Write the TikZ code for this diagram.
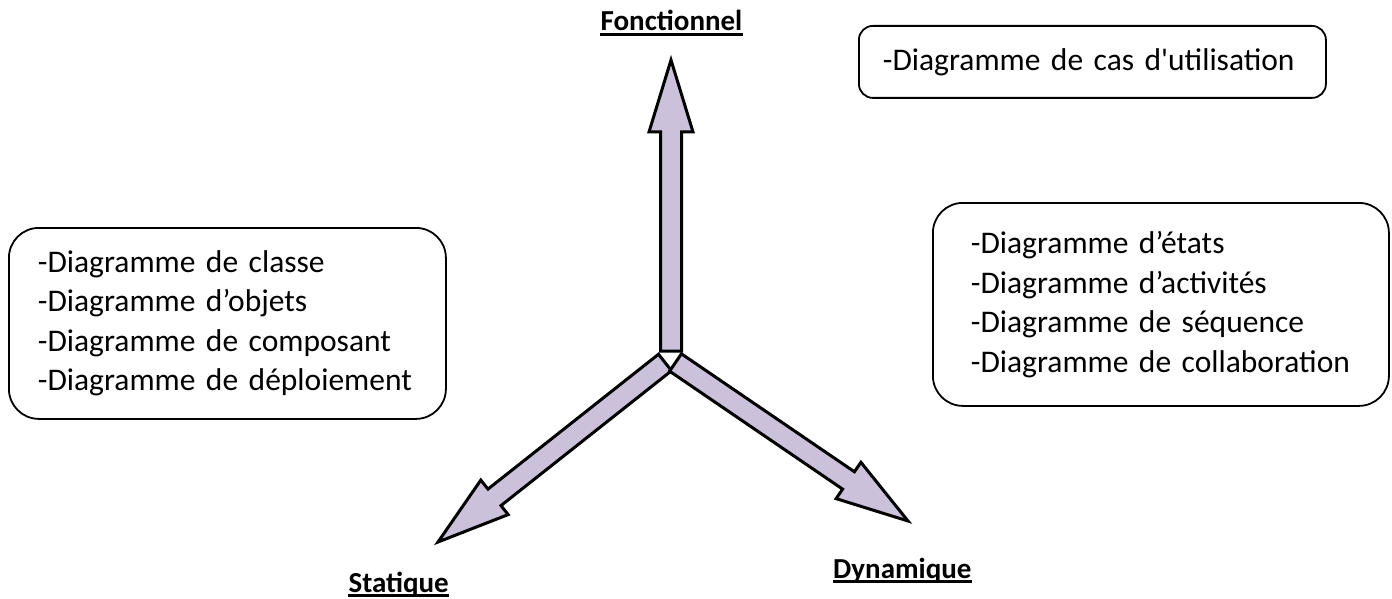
\documentclass[tikz,border=0pt]{standalone}
\usepackage{fontspec}
\setmainfont{Carlito}
\usetikzlibrary{calc}
\definecolor{lav}{RGB}{204,193,218}
\newcommand\axisarrow[3]{%
  \coordinate (#3) at ($(#2)!72pt!(#1)$);
  \draw[fatarrow] ($(#1)!10.5pt!90:(#2)$) -- ($(#3)!10.5pt!-90:(#1)$) -- ($(#3)!22pt!-90:(#1)$) -- (#2)
    -- ($(#3)!22pt!90:(#1)$) -- ($(#3)!10.5pt!90:(#1)$) -- ($(#1)!10.5pt!-90:(#2)$) -- cycle;}
\begin{document}
\begin{tikzpicture}[x=1pt,y=-1pt,
  listbox/.style={draw=black, line width=1.8pt, rounded corners=30pt, anchor=north west,
    align=left, font=\fontsize{31.5}{39.5}\selectfont, inner ysep=0pt},
  axislabel/.style={font=\fontsize{29}{34}\selectfont\bfseries, inner sep=0pt},
  ulined/.style={line width=2.6pt},
  fatarrow/.style={draw=black, fill=lav, line width=3pt, line join=miter}
]
\useasboundingbox (0,0) rectangle (1392,599);

% arrows
\coordinate (vT) at (671,351);
\coordinate (vP) at (671,60);
\coordinate (lT) at (665,362.5);
\coordinate (lP) at (438,542);
\coordinate (rT) at (675.5,362.5);
\coordinate (rP) at (908,521);
\axisarrow{vT}{vP}{vH}
\axisarrow{lT}{lP}{lH}
\axisarrow{rT}{rP}{rH}

% labels
\node[axislabel, anchor=base] (fon) at (671.5,31) {Fonctionnel};
\draw[ulined] ([yshift=-3.5pt]fon.base west) -- ([yshift=-3.5pt]fon.base east);
\node[axislabel, anchor=base east] (sta) at (449,592) {Statique};
\draw[ulined] ([yshift=-3.5pt]sta.base west) -- ([yshift=-3.5pt]sta.base east);
\node[axislabel, anchor=base west] (dyn) at (833,578) {Dynamique};
\draw[ulined] ([yshift=-3.5pt]dyn.base west) -- ([yshift=-3.5pt]dyn.base east);

% boxes
\node[listbox, minimum width=437pt, minimum height=191pt, text width=379pt, inner xsep=29pt] (statbox) at (8,227)
  {-Diagramme de classe\\-Diagramme d’objets\\-Diagramme de composant\\-Diagramme de déploiement};
\node[listbox, minimum width=456pt, minimum height=203pt, text width=380pt, inner xsep=38pt] (dynbox) at (932,202)
  {-Diagramme d’états\\-Diagramme d’activités\\-Diagramme de séquence\\-Diagramme de collaboration};
\node[listbox, rounded corners=14pt, minimum width=467pt, minimum height=72pt, text width=419pt, inner xsep=24pt] (fonbox) at (858,25)
  {-Diagramme de cas d\textquotesingle utilisation};
\end{tikzpicture}
\end{document}
